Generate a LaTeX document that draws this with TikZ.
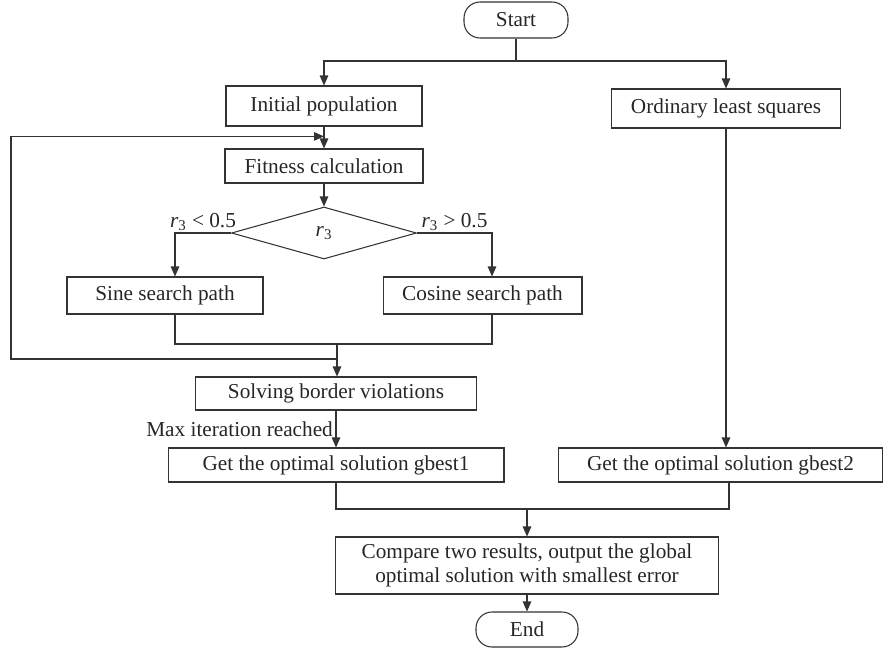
\documentclass[tikz,border=0pt]{standalone}
\usepackage{fontspec}
\setmainfont{Liberation Serif}
\usetikzlibrary{shapes.geometric,arrows.meta,calc}

\begin{document}
\begin{tikzpicture}[
  x=0.02cm, y=-0.02cm,
  every node/.style={font=\fontsize{12.1}{13.4}\selectfont, text=black!85},
  procbox/.style={rectangle, draw=black!80, line width=0.6pt, inner sep=0pt,
                  align=center},
  termbox/.style={procbox, rounded corners=0.32cm},
  decbox/.style={diamond, draw=black!80, line width=0.6pt, inner sep=0pt},
  link/.style={draw=black!80, line width=0.6pt},
  flow/.style={link, -{Triangle[length=0.2cm, width=0.17cm]}}
]
  \useasboundingbox (0,0) rectangle (884,648);

  % left column
  \node[termbox, minimum width=2.08cm, minimum height=0.72cm] (start) at (516,20) {Start};
  \node[procbox, minimum width=3.92cm, minimum height=0.80cm] (init) at (324,106) {Initial population};
  \node[procbox, minimum width=3.96cm, minimum height=0.68cm] (fit) at (324,166) {Fitness calculation};
  \node[decbox, minimum width=3.70cm, minimum height=1.04cm] (dec) at (324,233) {\textit{r}\textsubscript{3}};
  \node[procbox, minimum width=3.92cm, minimum height=0.74cm] (sine) at (165,295.5) {Sine search path};
  \node[procbox, minimum width=3.98cm, minimum height=0.74cm] (cosine) at (482.5,295.5) {Cosine search path};
  \node[procbox, minimum width=5.62cm, minimum height=0.66cm] (border) at (336,393.5) {Solving border violations};
  \node[procbox, minimum width=6.72cm, minimum height=0.68cm] (gbone) at (336,465) {Get the optimal solution gbest1};

  % right column
  \node[procbox, minimum width=4.58cm, minimum height=0.78cm] (ols) at (726,108.5) {Ordinary least squares};
  \node[procbox, minimum width=6.48cm, minimum height=0.68cm] (gbtwo) at (720.5,465) {Get the optimal solution gbest2};

  % final steps
  \node[procbox, minimum width=7.66cm, minimum height=1.14cm] (compare) at (527,565.5)
       {Compare two results, output the global\\optimal solution with smallest error};
  \node[termbox, minimum width=2.04cm, minimum height=0.70cm] (end) at (527,629.5) {End};

  \coordinate (fork) at (start.south |- 0,61);
  \coordinate (join) at (337,344);
  \coordinate (loopin) at (join |- 0,359);
  \coordinate (loopcorner) at (11,359);
  \coordinate (joinb) at (527,509);

  \draw[link] (start.south) -- (fork);
  \draw[flow] (fork) -| (init.north);
  \draw[flow] (fork) -| (ols.north);
  \draw[flow] (init) -- (fit);
  \draw[flow] (fit) -- (dec);
  \draw[flow] (dec.west) -| node[pos=0.25, above, inner sep=1pt]
        {\textit{r}\textsubscript{3} < 0.5} ([xshift=0.2cm]sine.north);
  \draw[flow] (dec.east) -| node[pos=0.25, above, inner sep=1pt]
        {\textit{r}\textsubscript{3} > 0.5} ([xshift=0.19cm]cosine.north);
  \draw[link] ([xshift=0.2cm]sine.south) |- (join) -| ([xshift=0.19cm]cosine.south);
  \draw[flow] (join) -- (join |- border.north);
  \draw[flow] (loopin) -- (loopcorner) |- ($(init.south)!0.45!(fit.north)$);
  \draw[flow] (border) -- (gbone)
        node[midway, left, inner sep=1.5pt] {Max iteration reached};
  \draw[flow] (ols) -- (ols.south |- gbtwo.north);
  \draw[link] (gbone.south) |- (joinb) -| ([xshift=0.17cm]gbtwo.south);
  \draw[flow] (joinb) -- (joinb |- compare.north);
  \draw[flow] (compare) -- (end);
\end{tikzpicture}
\end{document}
